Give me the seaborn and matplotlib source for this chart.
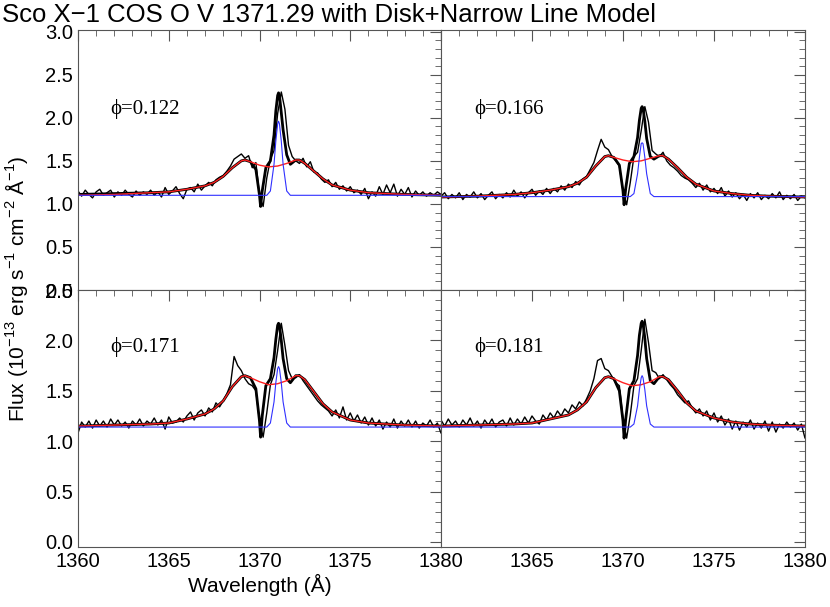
import numpy as np
import pandas as pd
import matplotlib
matplotlib.use("Agg")
import matplotlib.pyplot as plt
import seaborn as sns
from matplotlib.ticker import MultipleLocator, NullFormatter

phases = ["0.122", "0.166", "0.171", "0.181"]

model_x = [1360, 1362, 1364, 1365, 1366, 1367, 1367.5, 1368, 1368.5, 1369, 1369.2, 1369.5, 1370, 1370.5,
           1371, 1371.5, 1372, 1372.2, 1372.5, 1373, 1373.5, 1374, 1375, 1376, 1377, 1378, 1380]
disk_tl = [1.10, 1.11, 1.13, 1.14, 1.17, 1.21, 1.25, 1.32, 1.42, 1.50, 1.51, 1.49, 1.45, 1.43, 1.44, 1.47, 1.51, 1.51, 1.47, 1.38, 1.29, 1.22, 1.16, 1.13, 1.12, 1.11, 1.10]
disk_tr = [1.08, 1.09, 1.11, 1.13, 1.16, 1.20, 1.24, 1.31, 1.44, 1.55, 1.56, 1.54, 1.51, 1.49, 1.50, 1.53, 1.56, 1.56, 1.52, 1.42, 1.31, 1.23, 1.15, 1.12, 1.10, 1.09, 1.08]
disk_bl = [1.15, 1.16, 1.17, 1.18, 1.22, 1.27, 1.32, 1.40, 1.54, 1.64, 1.65, 1.63, 1.59, 1.56, 1.57, 1.60, 1.65, 1.65, 1.61, 1.49, 1.37, 1.29, 1.21, 1.18, 1.17, 1.16, 1.15]
disk_br = [1.15, 1.16, 1.17, 1.18, 1.22, 1.26, 1.31, 1.39, 1.53, 1.63, 1.64, 1.62, 1.58, 1.55, 1.56, 1.59, 1.64, 1.64, 1.61, 1.50, 1.38, 1.30, 1.23, 1.19, 1.17, 1.16, 1.15]

narrow_x = [1360, 1370.4, 1370.6, 1370.8, 1370.9, 1371.0, 1371.05, 1371.1, 1371.2, 1371.3, 1371.5, 1371.7, 1380]
narrow_tl = [1.10, 1.10, 1.15, 1.46, 1.73, 1.93, 1.96, 1.93, 1.73, 1.46, 1.15, 1.10, 1.10]
narrow_tr = [1.085, 1.085, 1.12, 1.35, 1.54, 1.70, 1.71, 1.70, 1.54, 1.35, 1.12, 1.085, 1.085]
narrow_bl = [1.14, 1.14, 1.18, 1.39, 1.58, 1.72, 1.74, 1.72, 1.58, 1.39, 1.18, 1.14, 1.14]
narrow_br = [1.14, 1.14, 1.17, 1.35, 1.51, 1.63, 1.65, 1.63, 1.51, 1.35, 1.17, 1.14, 1.14]

total_x = [1360, 1362, 1364, 1365, 1366, 1367, 1367.5, 1368, 1368.5, 1369, 1369.2, 1369.5, 1369.8, 1370.0, 1370.06,
           1370.15, 1370.35, 1370.6, 1370.8, 1370.9, 1371.0, 1371.05, 1371.1, 1371.2, 1371.3, 1371.5, 1371.7, 1372,
           1372.2, 1372.5, 1373, 1373.5, 1374, 1375, 1376, 1377, 1378, 1380]
total_tl = [1.11, 1.12, 1.13, 1.14, 1.17, 1.21, 1.25, 1.32, 1.42, 1.50, 1.51, 1.49, 1.40, 1.10, 0.97, 1.15, 1.42, 1.50, 1.80, 2.08, 2.26, 2.29, 2.26, 2.06, 1.86, 1.57, 1.46, 1.51, 1.51, 1.47, 1.38, 1.29, 1.22, 1.16, 1.13, 1.12, 1.11, 1.10]
total_tr = [1.08, 1.09, 1.11, 1.13, 1.16, 1.20, 1.24, 1.31, 1.44, 1.55, 1.56, 1.54, 1.45, 1.15, 0.99, 1.18, 1.47, 1.55, 1.77, 1.97, 2.11, 2.13, 2.11, 1.96, 1.76, 1.55, 1.52, 1.56, 1.56, 1.52, 1.42, 1.31, 1.23, 1.15, 1.12, 1.10, 1.09, 1.08]
total_bl = [1.15, 1.16, 1.17, 1.18, 1.22, 1.27, 1.32, 1.40, 1.54, 1.64, 1.65, 1.63, 1.52, 1.20, 1.04, 1.25, 1.55, 1.62, 1.83, 2.01, 2.15, 2.17, 2.15, 2.00, 1.82, 1.62, 1.58, 1.65, 1.65, 1.61, 1.49, 1.37, 1.29, 1.21, 1.18, 1.17, 1.16, 1.15]
total_br = [1.15, 1.16, 1.17, 1.18, 1.22, 1.26, 1.31, 1.39, 1.53, 1.63, 1.64, 1.62, 1.50, 1.20, 1.03, 1.22, 1.52, 1.60, 1.85, 2.05, 2.17, 2.19, 2.17, 2.02, 1.82, 1.60, 1.57, 1.64, 1.64, 1.61, 1.50, 1.38, 1.30, 1.23, 1.19, 1.17, 1.16, 1.15]

data_x = np.round(np.linspace(1360, 1380, 101), 2)
data_tl = [1.15, 1.09, 1.16, 1.11, 1.07, 1.14, 1.17, 1.10, 1.13, 1.16,
           1.08, 1.14, 1.10, 1.16, 1.11, 1.08, 1.15, 1.10, 1.14, 1.11,
           1.16, 1.10, 1.14, 1.08, 1.19, 1.11, 1.15, 1.20, 1.12, 1.06,
           1.17, 1.19, 1.14, 1.23, 1.16, 1.21, 1.25, 1.21, 1.28, 1.31,
           1.33, 1.38, 1.44, 1.52, 1.55, 1.58, 1.53, 1.56, 1.42, 1.48,
           1.10, 0.97, 1.30, 1.52, 1.62, 2.05, 2.30, 2.10, 1.68, 1.55,
           1.50, 1.47, 1.53, 1.43, 1.49, 1.37, 1.36, 1.29, 1.25, 1.28,
           1.20, 1.25, 1.17, 1.21, 1.15, 1.20, 1.13, 1.16, 1.11, 1.18,
           1.06, 1.14, 1.09, 1.20, 1.11, 1.22, 1.13, 1.23, 1.09, 1.17,
           1.11, 1.19, 1.08, 1.15, 1.10, 1.14, 1.09, 1.13, 1.10, 1.14, 1.11]
data_tr = [1.09, 1.13, 1.06, 1.11, 1.07, 1.13, 1.05, 1.11, 1.08, 1.14,
           1.07, 1.12, 1.05, 1.10, 1.14, 1.06, 1.11, 1.07, 1.13, 1.08,
           1.16, 1.09, 1.14, 1.07, 1.13, 1.17, 1.10, 1.15, 1.11, 1.18,
           1.12, 1.18, 1.14, 1.21, 1.16, 1.23, 1.19, 1.26, 1.22, 1.29,
           1.32, 1.40, 1.48, 1.62, 1.75, 1.66, 1.63, 1.55, 1.50, 1.44,
           1.15, 0.99, 1.25, 1.55, 1.60, 1.85, 2.13, 1.95, 1.62, 1.58,
           1.55, 1.60, 1.50, 1.45, 1.42, 1.38, 1.33, 1.30, 1.28, 1.24,
           1.19, 1.24, 1.16, 1.22, 1.14, 1.18, 1.12, 1.19, 1.09, 1.15,
           1.08, 1.13, 1.06, 1.11, 1.04, 1.12, 1.07, 1.13, 1.05, 1.10,
           1.06, 1.12, 1.07, 1.14, 1.05, 1.10, 1.06, 1.11, 1.04, 1.09, 1.07]
data_bl = [1.08, 1.19, 1.14, 1.20, 1.13, 1.21, 1.15, 1.20, 1.14, 1.22,
           1.16, 1.21, 1.15, 1.19, 1.13, 1.20, 1.16, 1.22, 1.15, 1.20,
           1.17, 1.23, 1.16, 1.21, 1.12, 1.24, 1.18, 1.19, 1.23, 1.19,
           1.25, 1.29, 1.21, 1.28, 1.31, 1.25, 1.33, 1.29, 1.38, 1.34,
           1.40, 1.47, 1.56, 1.84, 1.75, 1.70, 1.62, 1.57, 1.55, 1.50,
           1.20, 1.04, 1.28, 1.56, 1.66, 1.90, 2.17, 1.95, 1.70, 1.62,
           1.63, 1.66, 1.60, 1.55, 1.50, 1.45, 1.40, 1.36, 1.33, 1.30,
           1.25, 1.31, 1.23, 1.34, 1.21, 1.28, 1.20, 1.26, 1.18, 1.24,
           1.16, 1.23, 1.15, 1.21, 1.12, 1.19, 1.14, 1.22, 1.13, 1.20,
           1.15, 1.21, 1.14, 1.20, 1.13, 1.18, 1.15, 1.21, 1.14, 1.18, 1.08]
data_br = [1.21, 1.15, 1.22, 1.16, 1.20, 1.14, 1.21, 1.16, 1.23, 1.15,
           1.20, 1.13, 1.21, 1.16, 1.22, 1.14, 1.19, 1.21, 1.15, 1.23,
           1.16, 1.22, 1.17, 1.24, 1.18, 1.25, 1.20, 1.17, 1.26, 1.21,
           1.28, 1.23, 1.30, 1.25, 1.32, 1.28, 1.36, 1.32, 1.39, 1.35,
           1.42, 1.50, 1.62, 1.80, 1.82, 1.72, 1.70, 1.64, 1.58, 1.55,
           1.22, 1.03, 1.26, 1.55, 1.62, 1.90, 2.21, 1.98, 1.70, 1.68,
           1.62, 1.66, 1.61, 1.56, 1.52, 1.46, 1.42, 1.38, 1.40, 1.33,
           1.28, 1.32, 1.25, 1.30, 1.21, 1.28, 1.19, 1.25, 1.16, 1.22,
           1.12, 1.20, 1.11, 1.19, 1.14, 1.21, 1.12, 1.18, 1.13, 1.20,
           1.10, 1.19, 1.09, 1.17, 1.13, 1.19, 1.14, 1.18, 1.11, 1.17, 1.03]

panels = [
    (data_tl, total_tl, disk_tl, narrow_tl),
    (data_tr, total_tr, disk_tr, narrow_tr),
    (data_bl, total_bl, disk_bl, narrow_bl),
    (data_br, total_br, disk_br, narrow_br),
]

sns.set_style("white")
plt.rcParams["font.family"] = "Liberation Sans"
plt.rcParams["text.color"] = "black"
plt.rcParams["axes.labelcolor"] = "black"
plt.rcParams["xtick.color"] = "#555555"
plt.rcParams["ytick.color"] = "#555555"
plt.rcParams["xtick.labelcolor"] = "black"
plt.rcParams["ytick.labelcolor"] = "black"
plt.rcParams["mathtext.fontset"] = "custom"
plt.rcParams["mathtext.rm"] = "Liberation Sans"

fig = plt.figure(figsize=(8.30, 6.07), dpi=100)
L, M, R = 78/830, 441/830, 805/830
T, MID, B = 1-30/607, 1-290/607, 1-547/607
rects = [(L, MID, M-L, T-MID), (M, MID, R-M, T-MID), (L, B, M-L, MID-B), (M, B, R-M, MID-B)]

for k, (rect, (d, tot, disk, nar)) in enumerate(zip(rects, panels)):
    ax = fig.add_axes(rect)
    sns.lineplot(x=data_x, y=d, ax=ax, color="black", lw=1.0, estimator=None)
    sns.lineplot(x=total_x, y=tot, ax=ax, color="black", lw=2.0, estimator=None)
    sns.lineplot(x=model_x, y=disk, ax=ax, color="#ff2020", lw=1.0, estimator=None)
    sns.lineplot(x=narrow_x, y=nar, ax=ax, color="#3030ff", lw=0.8, estimator=None)
    ax.set_xlim(1360, 1380)
    top = k < 2
    if top:
        ax.set_ylim(0.0, 3.02)
        ax.text(1361.8, 2.1, "ϕ=" + phases[k], fontsize=15, family="Liberation Serif", va="center")
    else:
        ax.set_ylim(-0.05, 2.5)
        ax.text(1361.8, 1.93, "ϕ=" + phases[k], fontsize=15, family="Liberation Serif", va="center")
    ax.xaxis.set_major_locator(MultipleLocator(5))
    ax.xaxis.set_minor_locator(MultipleLocator(1))
    ax.yaxis.set_major_locator(MultipleLocator(0.5))
    ax.yaxis.set_minor_locator(MultipleLocator(0.1))
    ax.yaxis.set_major_formatter(matplotlib.ticker.FormatStrFormatter("%.1f"))
    ax.tick_params(which="both", direction="in", top=True, right=True, labelsize=14.5)
    ax.tick_params(which="major", length=8)
    ax.tick_params(which="minor", length=4)
    for s in ax.spines.values():
        s.set_color("#555555")
    ax.set_xlabel("")
    ax.set_ylabel("")
    if top:
        ax.xaxis.set_major_formatter(NullFormatter())
    if k % 2 == 1:
        ax.yaxis.set_major_formatter(NullFormatter())
    if k == 3:
        ax.set_xticks([1365, 1370, 1375, 1380])
    if k == 2:
        ax.set_xlabel("Wavelength (Å)", fontsize=15, labelpad=2)

fig.text(0.003, 0.975, "Sco X\u22121 COS O V 1371.29 with Disk+Narrow Line Model", fontsize=18.5, va="center", ha="left")
fig.text(0.02, (T+B)/2, "Flux (10$^{-13}$ erg s$^{-1}$ cm$^{-2}$ Å$^{-1}$)", fontsize=15, rotation=90, va="center", ha="center")
fig.savefig("out.png", dpi=100)
